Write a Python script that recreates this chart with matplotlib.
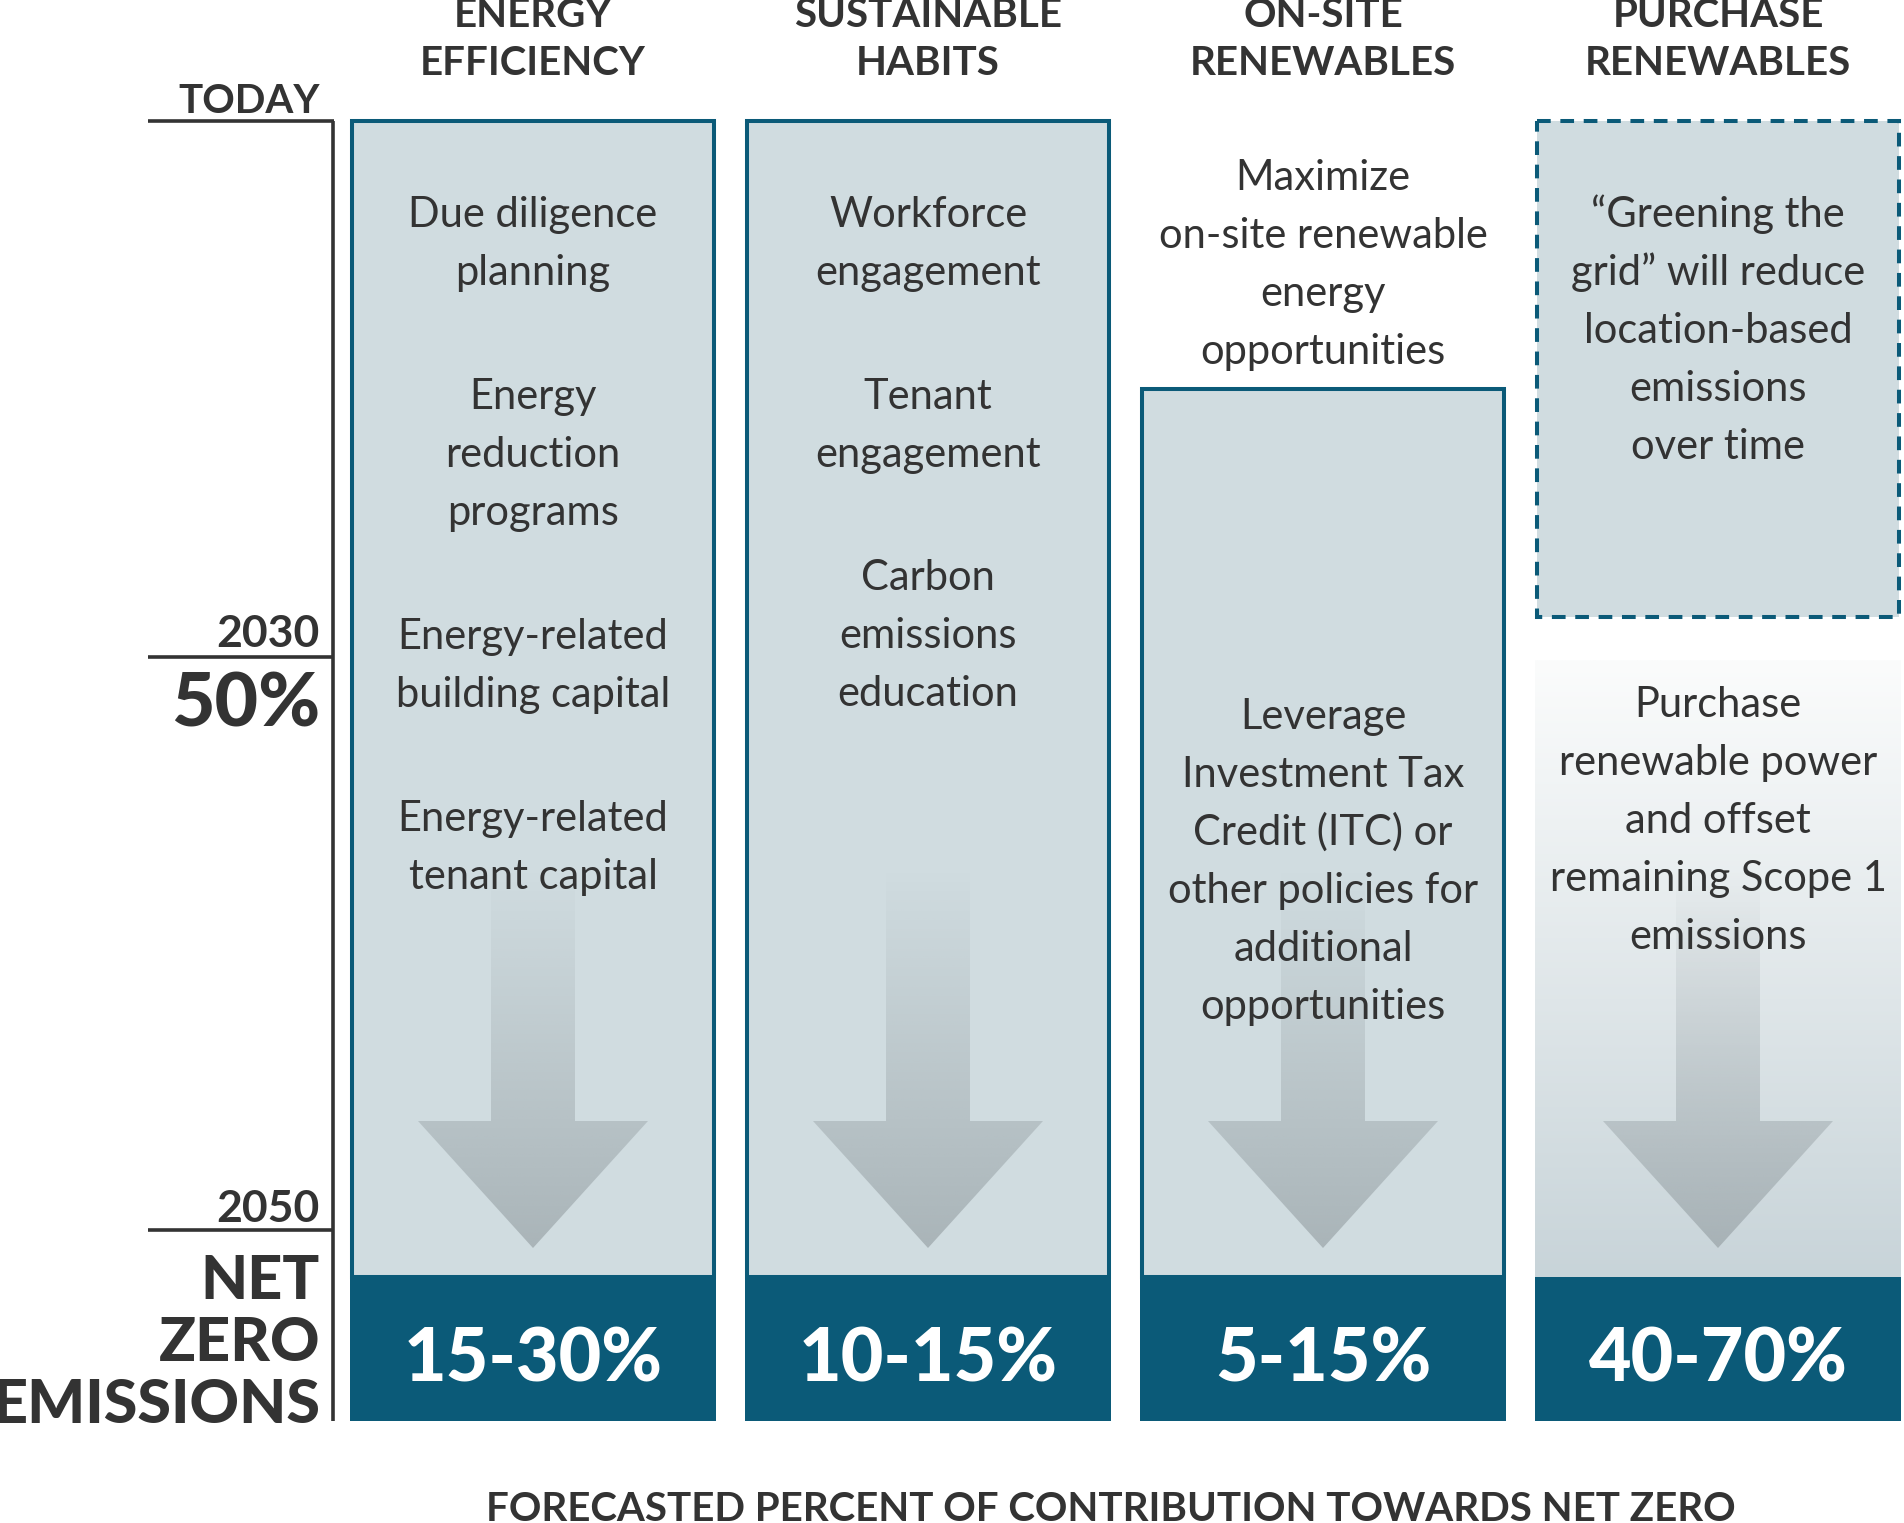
import matplotlib
matplotlib.use("Agg")
import matplotlib.pyplot as plt
import numpy as np
from matplotlib.colors import to_rgb
from matplotlib.patches import Polygon

plt.rcParams['font.family'] = ['Lato', 'DejaVu Sans']

# Data
columns = [["ENERGY", "EFFICIENCY"], ["SUSTAINABLE", "HABITS"],
           ["ON-SITE", "RENEWABLES"], ["PURCHASE", "RENEWABLES"]]
ranges = ["15-30%", "10-15%", "5-15%", "40-70%"]
col1_text = [["Due diligence", "planning"],
             ["Energy", "reduction", "programs"],
             ["Energy-related", "building capital"],
             ["Energy-related", "tenant capital"]]
col2_text = [["Workforce", "engagement"],
             ["Tenant", "engagement"],
             ["Carbon", "emissions", "education"]]
col3_text = [["Maximize", "on-site renewable", "energy", "opportunities"],
             ["Leverage", "Investment Tax", "Credit (ITC) or",
              "other policies for", "additional", "opportunities"]]
col4_text = [["\u201cGreening the", "grid\u201d will reduce", "location-based",
              "emissions", "over time"],
             ["Purchase", "renewable power", "and offset",
              "remaining Scope 1", "emissions"]]
timeline = ["TODAY", "2030", "2050"]
milestones = ["50%", "NET\nZERO\nEMISSIONS"]
footer = "FORECASTED PERCENT OF CONTRIBUTION TOWARDS NET ZERO"

# Layout (pixel units of the 1904x1523 canvas)
W, H = 1904, 1523
COL_X0, PITCH, COL_W = 350, 395, 366
BOX_TOP = [121, 121, 389, 121]
DASH_BOT = 617
BAND_TOP, BAND_BOT = 1277, 1421
AX_X, LINE_L = 333, 148
Y_LINES = [121, 657, 1230]
group_starts = [[211, 393, 633, 815], [211, 393, 574], [174, 713], [211, 701]]
LINE_H = 58

TEAL = "#0b5a78"
LIGHT = "#d0dce0"
DARK = "#333333"

fig = plt.figure(figsize=(W / 100, H / 100), dpi=100)
ax = fig.add_axes([0, 0, 1, 1])
ax.set_xlim(0, W)
ax.set_ylim(H, 0)
ax.axis("off")

centers = [COL_X0 + COL_W / 2 + i * PITCH for i in range(4)]

# column boxes
for i in range(3):
    ax.bar(centers[i], BAND_TOP - BOX_TOP[i], bottom=BOX_TOP[i], width=COL_W - 4,
           color=LIGHT, edgecolor=TEAL, linewidth=2.9, zorder=1)

# purchase column: fading background then dashed box
grad = np.linspace(0, 1, 256)[:, None]
c0, c1 = np.array(to_rgb("#fbfcfc")), np.array(to_rgb("#c8d4d9"))
img = c0 + (c1 - c0) * grad[..., None]
img = np.repeat(img, 2, axis=1)
ax.imshow(img, extent=[centers[3] - COL_W / 2, centers[3] + COL_W / 2, BAND_TOP, 660],
          aspect="auto", zorder=0.5, interpolation="bilinear")
ax.bar(centers[3], DASH_BOT - BOX_TOP[3], bottom=BOX_TOP[3], width=COL_W - 4,
       color=LIGHT, edgecolor=TEAL, linewidth=2.9, linestyle=(0, (3.4, 2.4)), zorder=1)

# bottom bands
ax.bar(centers, [BAND_BOT - BAND_TOP] * 4, bottom=BAND_TOP, width=COL_W,
       color=TEAL, linewidth=0, zorder=2)
for cx, r in zip(centers, ranges):
    ax.text(cx, 1381, r, color="white", fontsize=53, fontweight="black",
            ha="center", va="baseline", zorder=5)

# arrows with fading fill
a_top, a_base, a_tip = 870, 1121, 1248
for cx in centers:
    pts = [(cx - 42, a_top), (cx + 42, a_top), (cx + 42, a_base), (cx + 115, a_base),
           (cx, a_tip), (cx - 115, a_base), (cx - 42, a_base)]
    poly = Polygon(pts, closed=True, facecolor="none", edgecolor="none")
    ax.add_patch(poly)
    alpha = np.linspace(0, 0.66, 256)[:, None]
    rgba = np.zeros((256, 2, 4))
    rgba[..., :3] = to_rgb("#96a0a4")
    rgba[..., 3] = alpha
    im = ax.imshow(rgba, extent=[cx - 115, cx + 115, a_tip, a_top],
                   aspect="auto", zorder=1.5, interpolation="bilinear")
    im.set_clip_path(poly)

# body text
for cx, groups, starts in zip(centers, [col1_text, col2_text, col3_text, col4_text],
                              group_starts):
    for lines, y0 in zip(groups, starts):
        for k, line in enumerate(lines):
            ax.text(cx, y0 + k * LINE_H, line, color=DARK, fontsize=30,
                    fontweight="normal", ha="center", va="center_baseline", zorder=4)

# column headers
for cx, (l1, l2) in zip(centers, columns):
    ax.text(cx, 27, l1, color=DARK, fontsize=29, fontweight="bold",
            ha="center", va="baseline")
    ax.text(cx, 75, l2, color=DARK, fontsize=29, fontweight="bold",
            ha="center", va="baseline")

# timeline on the left
ax.plot([AX_X, AX_X], [Y_LINES[0], BAND_BOT], color=DARK, lw=2.6,
        solid_capstyle="butt")
for y in Y_LINES:
    ax.plot([LINE_L, AX_X + 1], [y, y], color=DARK, lw=2.6, solid_capstyle="butt")
for y, t, fs in zip([113, 647, 1222], timeline, [29, 32, 32]):
    ax.text(320, y, t, color=DARK, fontsize=fs, fontweight="bold",
            ha="right", va="baseline")
ax.text(320, 726, milestones[0], color=DARK, fontsize=54, fontweight="black",
        ha="right", va="baseline")
for k, word in enumerate(milestones[1].split("\n")):
    ax.text(320, 1299 + k * 62, word, color=DARK, fontsize=44, fontweight="black",
            ha="right", va="baseline")

ax.text(1111, 1521, footer, color=DARK, fontsize=29, fontweight="bold",
        ha="center", va="baseline")

fig.savefig("out.png", dpi=100)
